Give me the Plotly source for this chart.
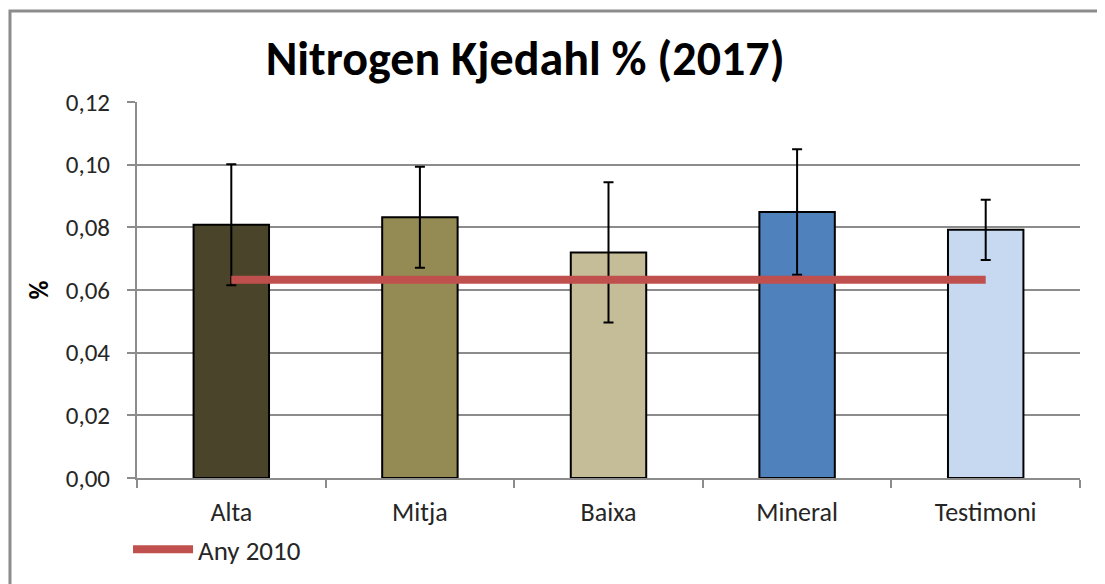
import plotly.graph_objects as go

categories = ["Alta", "Mitja", "Baixa", "Mineral", "Testimoni"]
values = [0.0808, 0.0832, 0.0720, 0.0849, 0.0792]
errors = [0.0193, 0.0161, 0.0224, 0.0200, 0.0096]
bar_colors = ["#4A442A", "#948A54", "#C4BD97", "#4F81BD", "#C6D9F1"]
line_name = "Any 2010"
line_values = [0.0633, 0.0633, 0.0633, 0.0633, 0.0633]
y_ticks = [0.00, 0.02, 0.04, 0.06, 0.08, 0.10, 0.12]

FONT = "Carlito, Lato, sans-serif"

fig = go.Figure()
fig.add_trace(go.Bar(
    x=categories, y=values,
    marker=dict(color=bar_colors, line=dict(color="black", width=2)),
    error_y=dict(type="data", array=errors, visible=True, color="black",
                 thickness=2, width=5),
    showlegend=False,
))
fig.add_trace(go.Scatter(
    x=categories, y=line_values, mode="lines", name=line_name,
    line=dict(color="#C0504D", width=8),
))

fig.update_layout(
    width=1105, height=584,
    margin=dict(l=129, r=33, t=94, b=114),
    paper_bgcolor="white", plot_bgcolor="white",
    separators=",.",
    bargap=0.6,
    font=dict(family=FONT, size=24, color="#262626"),
    title=dict(text="<b>Nitrogen Kjedahl % (2017)</b>", x=0.468, xanchor="center",
               y=0.914, yanchor="middle",
               font=dict(family=FONT, size=48, color="black")),
    xaxis=dict(showgrid=False, showline=True, linecolor="#8c8c8c", linewidth=2,
               ticks="outside", tickson="boundaries", ticklen=8, tickcolor="#8c8c8c",
               tickwidth=2, tickfont=dict(size=26), ticklabelstandoff=10),
    yaxis=dict(range=[0, 0.12], tickvals=y_ticks, tickformat=".2f",
               showgrid=True, gridcolor="#8c8c8c", gridwidth=2,
               showline=True, linecolor="#8c8c8c", linewidth=2,
               ticks="outside", ticklen=8, tickcolor="#8c8c8c", tickwidth=2,
               tickfont=dict(size=25), zeroline=False, ticklabelstandoff=12,
               title=dict(text="<b>%</b>", font=dict(size=26, color="black"), standoff=10)),
    legend=dict(orientation="h", x=-0.0095, y=-0.191, xanchor="left", yanchor="middle",
                font=dict(size=27), itemwidth=60),
    shapes=[dict(type="rect", xref="paper", yref="paper",
                 x0=-0.1347, x1=1.06, y0=-0.35, y1=1.242,
                 line=dict(color="#8c8c8c", width=3), fillcolor="rgba(0,0,0,0)",
                 layer="below")],
)

fig.write_html("out.html")
